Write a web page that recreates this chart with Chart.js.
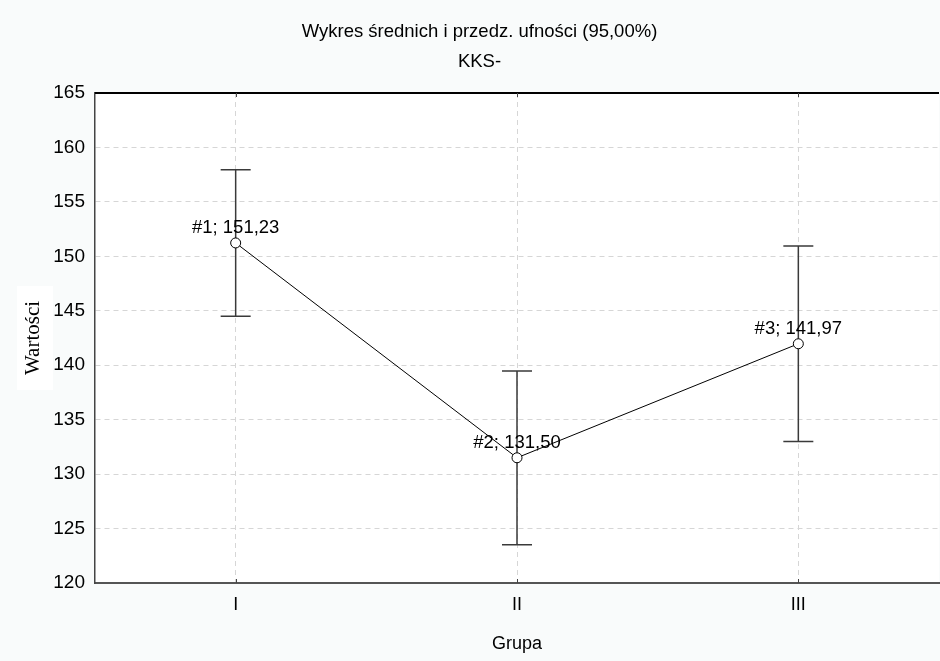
<!DOCTYPE html>
<html>
<head>
<meta charset="utf-8">
<script src="https://cdn.jsdelivr.net/npm/chart.js@4.4.0/dist/chart.umd.min.js"></script>
<style>
  html, body { margin: 0; padding: 0; background: #f9fbfb; }
  canvas { display: block; }
</style>
</head>
<body>
<canvas id="chart" width="940" height="661"></canvas>
<script>
// Data
const groups = ['I', 'II', 'III'];
const means = [151.23, 131.50, 141.97];
const lowerCI = [144.50, 123.52, 132.99];
const upperCI = [157.96, 139.48, 150.95];
const yTickValues = [120, 125, 130, 135, 140, 145, 150, 155, 160, 165];

const chartTitle = ['Wykres średnich i przedz. ufności (95,00%)', 'KKS-'];
const xTitle = 'Grupa';
const yTitle = 'Wartości';

const sansFont = "'Liberation Sans', Arial, sans-serif";

// Grey page, white plot area, white box behind the y title, top border line
const backgroundPlugin = {
  id: 'background',
  beforeDraw(chart) {
    const { ctx, chartArea } = chart;
    ctx.save();
    ctx.fillStyle = '#f9fbfb';
    ctx.fillRect(0, 0, chart.width, chart.height);
    ctx.fillStyle = '#ffffff';
    ctx.fillRect(chartArea.left, chartArea.top, chartArea.right - chartArea.left, chartArea.bottom - chartArea.top);
    const midY = (chartArea.top + chartArea.bottom) / 2;
    ctx.fillRect(17, midY - 52, 36, 104);
    ctx.restore();
  },
  afterDraw(chart) {
    const { ctx, chartArea } = chart;
    const x = chart.scales.x;
    ctx.save();
    ctx.strokeStyle = '#000000';
    ctx.lineWidth = 2;
    ctx.beginPath();
    ctx.moveTo(chartArea.left, chartArea.top);
    ctx.lineTo(chartArea.right, chartArea.top);
    ctx.stroke();
    // small tick marks on the top and bottom frame at each group
    ctx.strokeStyle = '#444444';
    ctx.lineWidth = 1;
    groups.forEach((g, i) => {
      const px = Math.round(x.getPixelForValue(i)) + 0.5;
      ctx.beginPath();
      ctx.moveTo(px, chartArea.top);
      ctx.lineTo(px, chartArea.top + 4);
      ctx.moveTo(px, chartArea.bottom);
      ctx.lineTo(px, chartArea.bottom - 4);
      ctx.stroke();
    });
    ctx.restore();
  }
};

// Confidence interval whiskers, drawn under the line and points
const errorBarPlugin = {
  id: 'errorBars',
  beforeDatasetsDraw(chart) {
    const { ctx } = chart;
    const x = chart.scales.x;
    const y = chart.scales.y;
    ctx.save();
    ctx.strokeStyle = '#3a3a3a';
    ctx.lineWidth = 1.5;
    groups.forEach((g, i) => {
      const px = x.getPixelForValue(i);
      const top = y.getPixelForValue(upperCI[i]);
      const bot = y.getPixelForValue(lowerCI[i]);
      ctx.beginPath();
      ctx.moveTo(px, top);
      ctx.lineTo(px, bot);
      ctx.moveTo(px - 15, top);
      ctx.lineTo(px + 15, top);
      ctx.moveTo(px - 15, bot);
      ctx.lineTo(px + 15, bot);
      ctx.stroke();
    });
    ctx.restore();
  }
};

// "#n; value" labels above the means
const pointLabelPlugin = {
  id: 'pointLabels',
  afterDatasetsDraw(chart) {
    const { ctx } = chart;
    const meta = chart.getDatasetMeta(0);
    ctx.save();
    ctx.fillStyle = '#000000';
    ctx.font = '18.5px ' + sansFont;
    ctx.textAlign = 'center';
    ctx.textBaseline = 'alphabetic';
    meta.data.forEach((pt, i) => {
      const text = '#' + (i + 1) + '; ' + means[i].toFixed(2).replace('.', ',');
      ctx.fillText(text, pt.x, pt.y - 10);
    });
    ctx.restore();
  }
};

const chart = new Chart(document.getElementById('chart'), {
  type: 'line',
  data: {
    labels: groups,
    datasets: [{
      data: means,
      borderColor: '#000000',
      borderWidth: 1,
      pointRadius: 5,
      pointBorderWidth: 1,
      pointBackgroundColor: '#ffffff',
      pointBorderColor: '#000000',
      tension: 0,
      fill: false
    }]
  },
  options: {
    responsive: false,
    animation: false,
    layout: { autoPadding: false, padding: { left: 20, right: 1, top: 0, bottom: 0 } },
    plugins: {
      legend: { display: false },
      tooltip: { enabled: false },
      title: {
        display: true,
        text: chartTitle,
        color: '#000000',
        font: { family: sansFont, size: 18.5, weight: 'normal', lineHeight: 30 / 18.5 },
        padding: { top: 17, bottom: 16 }
      }
    },
    scales: {
      x: {
        type: 'category',
        offset: true,
        afterFit: (s) => { s.height = 78; s.paddingLeft = 0; s.paddingRight = 0; },
        grid: { color: '#d6d6d6', lineWidth: 1, offset: false, drawTicks: false },
        border: { display: true, color: '#555555', width: 2, dash: [5, 4] },
        ticks: { color: '#000000', padding: 11, font: { family: sansFont, size: 18 } },
        title: {
          display: true,
          text: xTitle,
          color: '#000000',
          font: { family: sansFont, size: 18 },
          padding: { top: 4, bottom: 6 }
        }
      },
      y: {
        min: 120,
        max: 165,
        afterFit: (s) => { s.width = 75; },
        afterBuildTicks: (s) => { s.ticks = yTickValues.map(v => ({ value: v })); },
        grid: { color: '#d6d6d6', lineWidth: 1, drawTicks: false },
        border: { display: true, color: '#444444', width: 1.5, dash: [5, 4] },
        ticks: { color: '#000000', padding: 10, font: { family: sansFont, size: 19 } },
        title: {
          display: true,
          text: yTitle,
          color: '#000000',
          font: { family: "'Liberation Serif', 'Times New Roman', serif", size: 21 },
          padding: { top: 1, bottom: 0 }
        }
      }
    }
  },
  plugins: [backgroundPlugin, errorBarPlugin, pointLabelPlugin]
});
</script>
</body>
</html>
